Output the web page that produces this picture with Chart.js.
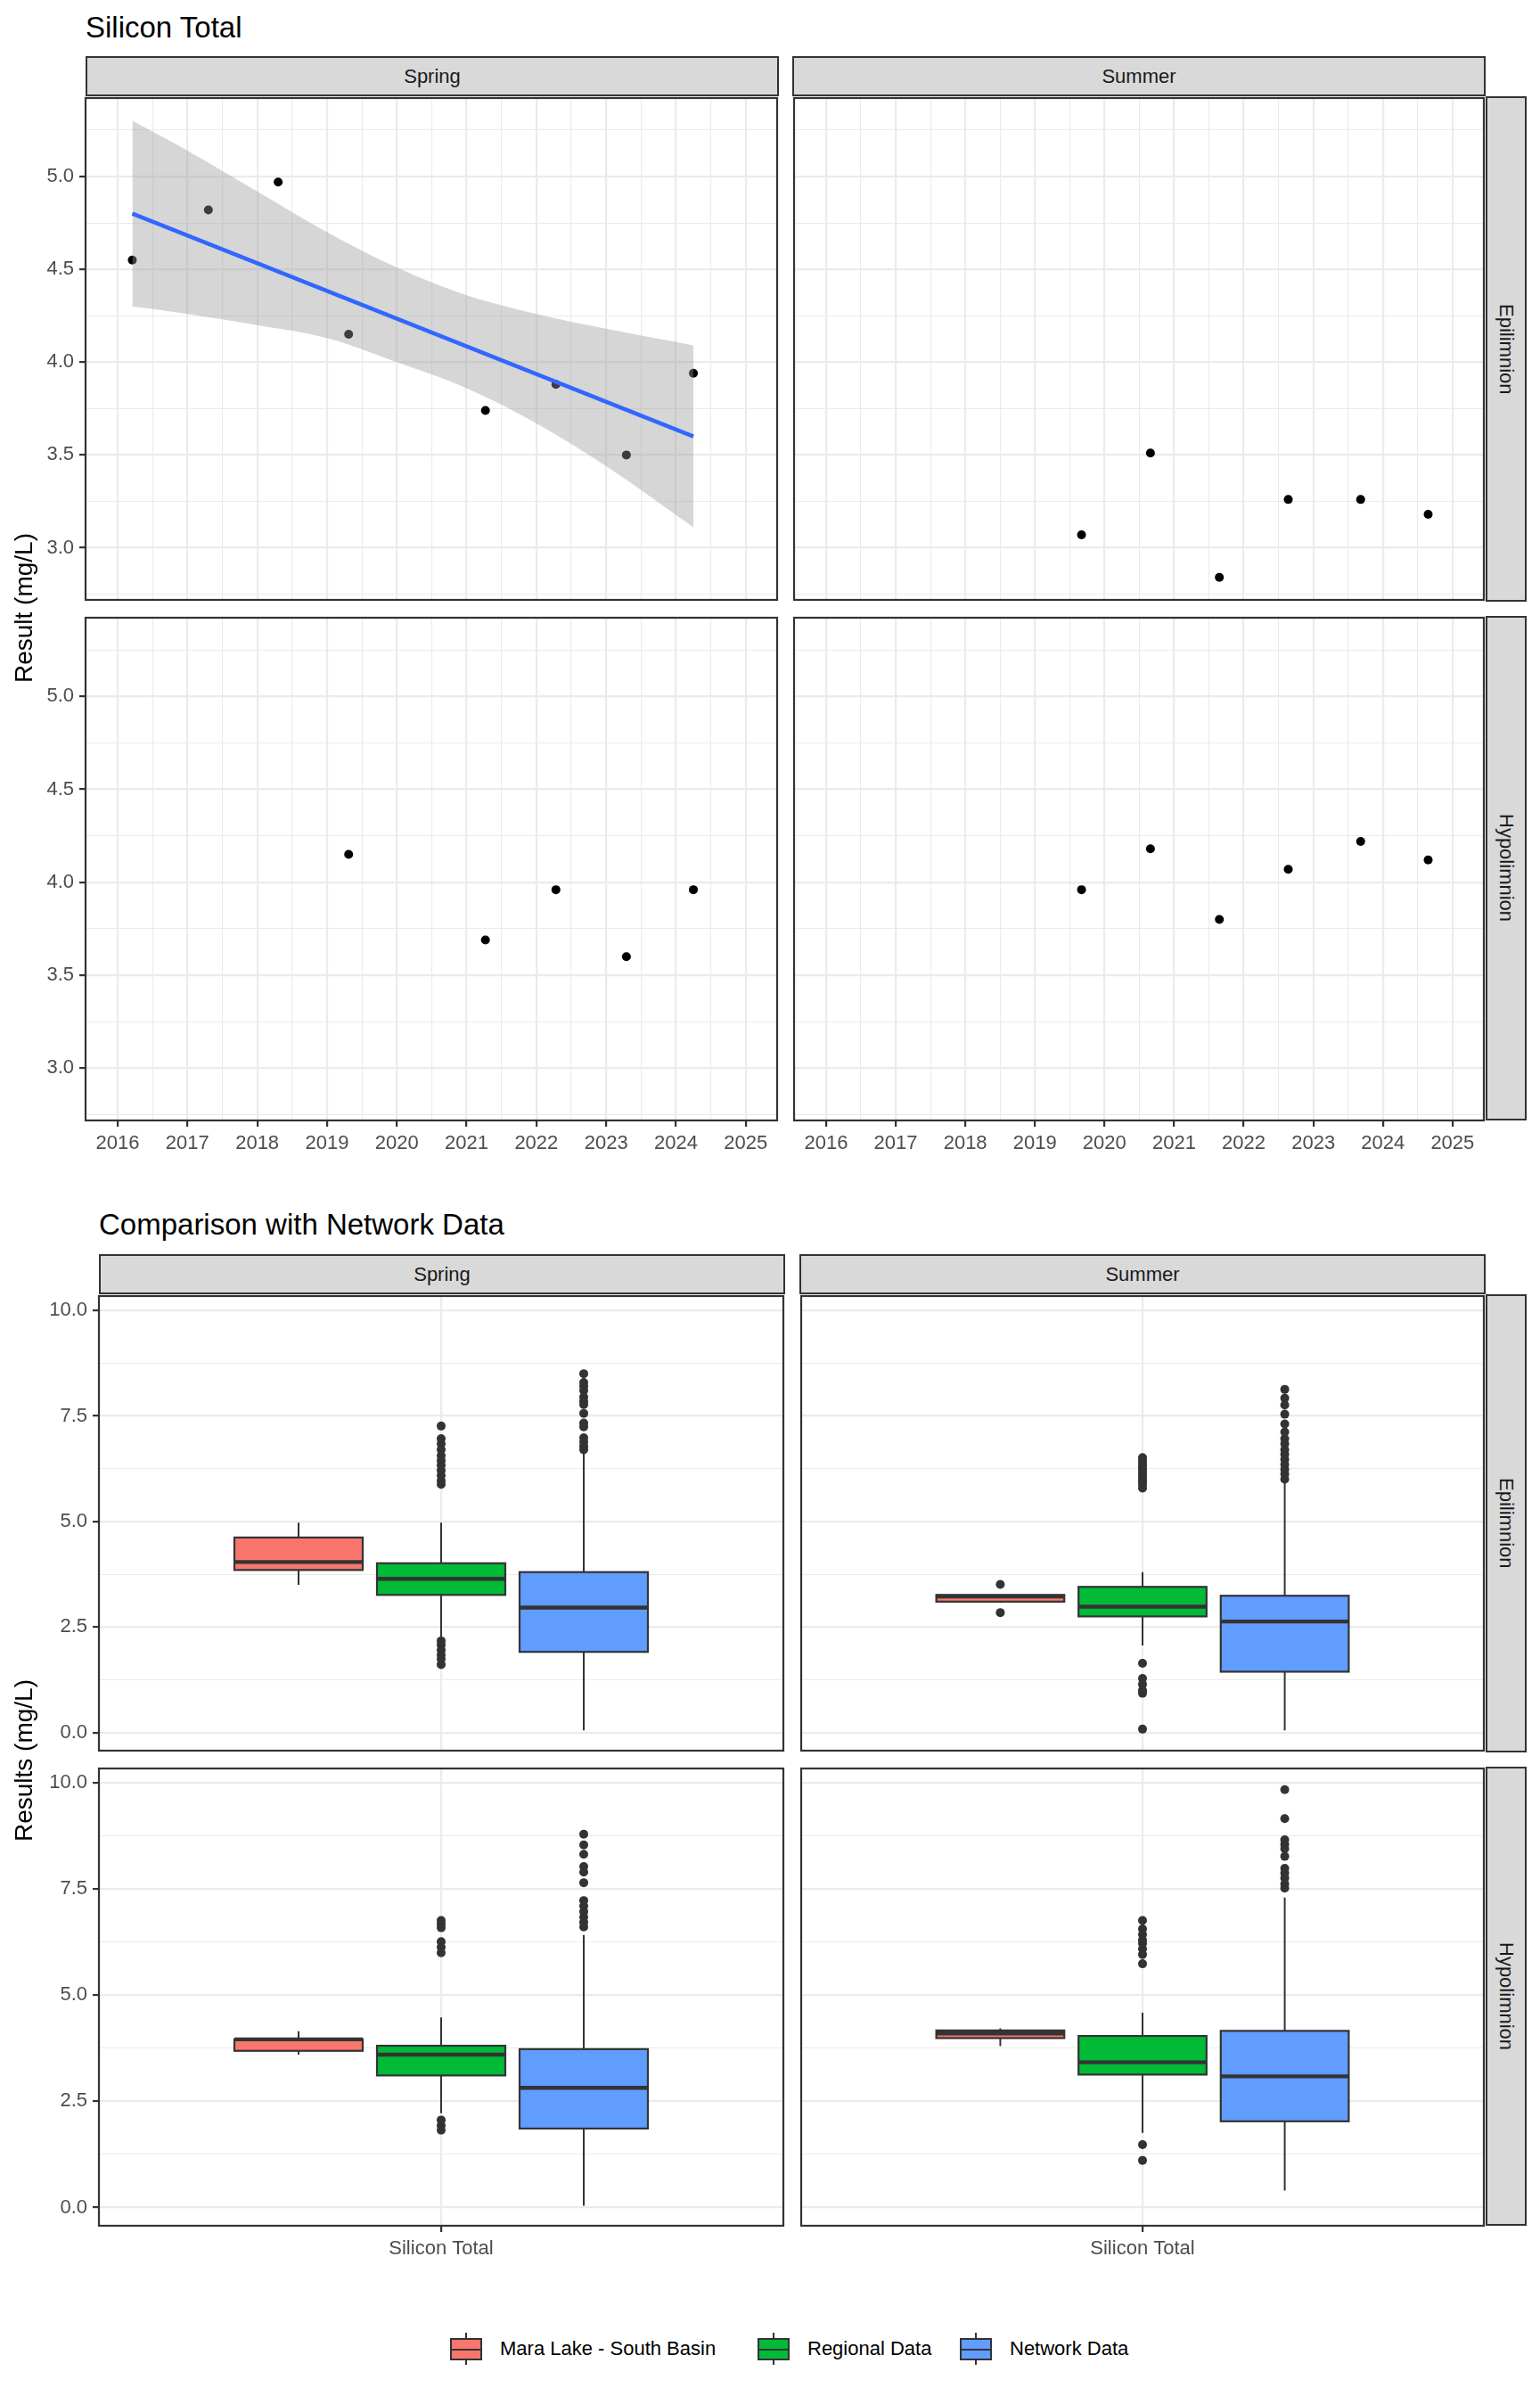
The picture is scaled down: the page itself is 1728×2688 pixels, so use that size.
<!DOCTYPE html>
<html>
<head>
<meta charset="utf-8">
<script src="https://cdn.jsdelivr.net/npm/chart.js@4.4.1/dist/chart.umd.min.js"></script>
<style>
  body { margin: 0; background: #fff; width: 1728px; height: 2688px; position: relative; overflow: hidden;
         font-family: "Liberation Sans", Arial, sans-serif; }
  canvas { position: absolute; }
  .abs { position: absolute; }
  .title { font-size: 33px; line-height: 33px; color: #000; white-space: nowrap; }
  .strip { position: absolute; box-sizing: border-box; background: #D9D9D9; border: 2px solid #333;
           display: flex; align-items: center; justify-content: center; font-size: 22px; color: #1A1A1A; }
  .vstrip { writing-mode: vertical-rl; }
  .ytitle { position: absolute; width: 600px; height: 32px; line-height: 32px; text-align: center;
            font-size: 28px; color: #000; transform: rotate(-90deg); }
  .lgtext { position: absolute; font-size: 22px; line-height: 26px; color: #000; white-space: nowrap; }
</style>
</head>
<body>
<script>
// ---------- Silicon Total over time (decimal years) ----------
const yearTicks = [2016, 2017, 2018, 2019, 2020, 2021, 2022, 2023, 2024, 2025];
const yearMinor = [2016.5, 2017.5, 2018.5, 2019.5, 2020.5, 2021.5, 2022.5, 2023.5, 2024.5];
const resultTicks = [3.0, 3.5, 4.0, 4.5, 5.0];
const resultMinor = [2.75, 3.25, 3.75, 4.25, 4.75, 5.25];

const springEpiX = [2016.21, 2017.30, 2018.30, 2019.31, 2021.27, 2022.28, 2023.29, 2024.25];
const springEpiY = [4.55, 4.82, 4.97, 4.15, 3.74, 3.88, 3.50, 3.94];
const summerEpiX = [2019.67, 2020.66, 2021.65, 2022.64, 2023.68, 2024.65];
const summerEpiY = [3.07, 3.51, 2.84, 3.26, 3.26, 3.18];
const springHypoX = [2019.31, 2021.27, 2022.28, 2023.29, 2024.25];
const springHypoY = [4.15, 3.69, 3.96, 3.60, 3.96];
const summerHypoX = [2019.67, 2020.66, 2021.65, 2022.64, 2023.68, 2024.65];
const summerHypoY = [3.96, 4.18, 3.80, 4.07, 4.22, 4.12];

// lm trend + confidence band (spring epilimnion)
const trendX = [2016.21, 2024.25];
const trendY = [4.80, 3.60];
const bandX = [2016.21, 2017, 2018, 2019, 2020, 2021, 2022, 2023, 2024.25];
const bandHi = [5.30, 5.14, 4.92, 4.70, 4.51, 4.36, 4.26, 4.18, 4.09];
const bandLo = [4.30, 4.26, 4.20, 4.13, 4.00, 3.86, 3.67, 3.44, 3.11];

// ---------- Comparison with network data ----------
const groups = ["Mara Lake - South Basin", "Regional Data", "Network Data"];
const groupColors = ["#F8766D", "#00BA38", "#619CFF"];
const networkTicks = [0, 2.5, 5, 7.5, 10];
const networkMinor = [1.25, 3.75, 6.25, 8.75];
const paramLabel = "Silicon Total";

// [lower whisker, Q1, median, Q3, upper whisker] per group
const springEpiStats = [[3.50, 3.85, 4.04, 4.62, 4.97], [2.21, 3.26, 3.64, 4.01, 4.97], [0.05, 1.91, 2.96, 3.80, 6.65]];
const springEpiOut = [[],
  [7.26, 6.96, 6.84, 6.70, 6.56, 6.44, 6.33, 6.21, 6.09, 5.97, 5.88, 2.17, 2.07, 1.95, 1.84, 1.74, 1.61],
  [8.50, 8.29, 8.20, 8.10, 7.95, 7.85, 7.77, 7.56, 7.33, 7.24, 6.98, 6.88, 6.78, 6.70]];
const summerEpiStats = [[3.07, 3.10, 3.22, 3.26, 3.26], [2.06, 2.75, 2.98, 3.45, 3.80], [0.05, 1.44, 2.63, 3.24, 5.91]];
const summerEpiOut = [[3.51, 2.84],
  [6.51, 6.44, 6.37, 6.30, 6.23, 6.16, 6.09, 6.03, 5.95, 5.88, 5.79, 1.64, 1.28, 1.14, 1.00, 0.93, 0.08],
  [8.13, 7.92, 7.76, 7.54, 7.31, 7.12, 6.96, 6.84, 6.70, 6.59, 6.47, 6.35, 6.23, 6.12, 6.00]];
const springHypoStats = [[3.60, 3.69, 3.96, 3.96, 4.15], [2.22, 3.11, 3.60, 3.81, 4.48], [0.04, 1.86, 2.82, 3.73, 6.42]];
const springHypoOut = [[],
  [6.76, 6.68, 6.59, 6.26, 6.13, 6.00, 2.06, 1.93, 1.82],
  [8.79, 8.54, 8.32, 8.03, 7.90, 7.65, 7.23, 7.10, 6.97, 6.84, 6.72, 6.61]];
const summerHypoStats = [[3.80, 3.99, 4.10, 4.17, 4.22], [1.76, 3.13, 3.42, 4.04, 4.59], [0.40, 2.03, 3.09, 4.16, 7.30]];
const summerHypoOut = [[],
  [6.76, 6.56, 6.43, 6.30, 6.22, 6.09, 5.96, 5.74, 1.48, 1.11],
  [9.84, 9.16, 8.66, 8.55, 8.45, 8.27, 7.99, 7.88, 7.76, 7.62, 7.52]];

// dodge positions on the discrete axis
const boxPos = [0.75, 1.0, 1.25];
const boxHalf = 0.1125;

Chart.defaults.font.family = '"Liberation Sans", Arial, sans-serif';
Chart.defaults.font.size = 22;
Chart.defaults.color = "#4D4D4D";
Chart.defaults.animation = false;

const INK = "#333333";
const PAD = 3;

// panel border all round
Chart.register({
  id: "frame",
  afterDraw(chart) {
    const { ctx, chartArea: a } = chart;
    ctx.save();
    ctx.strokeStyle = INK;
    ctx.lineWidth = 2.2;
    ctx.strokeRect(a.left, a.top, a.right - a.left, a.bottom - a.top);
    ctx.restore();
  }
});

function addDiv(cls, css, text) {
  const d = document.createElement("div");
  d.className = cls;
  Object.assign(d.style, css);
  if (text) d.textContent = text;
  document.body.appendChild(d);
  return d;
}

function addCanvas(g) {
  const c = document.createElement("canvas");
  const left = g.showY ? 0 : g.L - PAD;
  const top = g.T - PAD;
  const w = g.R + PAD - left;
  const h = (g.showX ? g.B + g.axH : g.B + PAD) - top;
  c.width = w; c.height = h;
  c.style.left = left + "px"; c.style.top = top + "px";
  c.style.width = w + "px"; c.style.height = h + "px";
  document.body.appendChild(c);
  return c;
}

function axis(isX, g, cfg) {
  const show = isX ? g.showX : g.showY;
  const isMajor = c => c.tick && cfg.major.includes(c.tick.value);
  return {
    type: "linear",
    position: isX ? "bottom" : "left",
    min: cfg.min,
    max: cfg.max,
    afterBuildTicks: s => {
      s.ticks = cfg.major.concat(cfg.minor).sort((a, b) => a - b).map(v => ({ value: v }));
    },
    afterFit: s => {
      if (isX) s.height = show ? g.axH : 0;
      else s.width = show ? g.L : 0;
      s.paddingLeft = s.paddingRight = s.paddingTop = s.paddingBottom = 0;
    },
    border: { display: false },
    grid: {
      color: "#EBEBEB",
      lineWidth: c => (isMajor(c) ? 2.2 : 1.1),
      drawTicks: show,
      tickLength: 7,
      tickWidth: 2.2,
      tickColor: c => (isMajor(c) ? INK : "rgba(0,0,0,0)")
    },
    ticks: {
      display: show,
      autoSkip: false,
      maxRotation: 0,
      padding: 6,
      color: "#4D4D4D",
      font: { size: 22 },
      callback: v => (cfg.major.includes(v) ? cfg.fmt(v) : "")
    }
  };
}

function makeChart(g, xcfg, ycfg, datasets, plugins) {
  return new Chart(addCanvas(g), {
    type: "scatter",
    data: { datasets },
    options: {
      responsive: false,
      devicePixelRatio: 1,
      layout: { padding: { left: g.showY ? 0 : PAD, top: PAD, right: PAD, bottom: g.showX ? 0 : PAD } },
      plugins: { legend: { display: false }, tooltip: { enabled: false } },
      scales: { x: axis(true, g, xcfg), y: axis(false, g, ycfg) }
    },
    plugins: plugins || []
  });
}

const pts = (xs, ys) => xs.map((x, i) => ({ x, y: ys[i] }));

// ================= Part 1: time series facets =================
const tCols = [[96, 874], [889, 1667]];
const tRows = [[108, 675], [691, 1257]];
const xTime = { min: 2015.54, max: 2025.45, major: yearTicks, minor: yearMinor, fmt: v => String(v) };
const yTime = { min: 2.719, max: 5.423, major: resultTicks, minor: resultMinor, fmt: v => v.toFixed(1) };

function pointSet(xs, ys) {
  return { data: pts(xs, ys), pointRadius: 5, backgroundColor: "#000", borderColor: "#000", borderWidth: 0, order: 3 };
}

const timePanels = [
  { r: 0, c: 0, ds: [
      pointSet(springEpiX, springEpiY),
      { data: pts(bandX, bandLo), showLine: true, pointRadius: 0, borderColor: "rgba(0,0,0,0)",
        cubicInterpolationMode: "monotone", fill: false, order: 2 },
      { data: pts(bandX, bandHi), showLine: true, pointRadius: 0, borderColor: "rgba(0,0,0,0)",
        cubicInterpolationMode: "monotone", backgroundColor: "rgba(153,153,153,0.4)", fill: "-1", order: 1 },
      { data: pts(trendX, trendY), showLine: true, pointRadius: 0, borderColor: "#3366FF", borderWidth: 4.5, order: 0 }
    ] },
  { r: 0, c: 1, ds: [pointSet(summerEpiX, summerEpiY)] },
  { r: 1, c: 0, ds: [pointSet(springHypoX, springHypoY)] },
  { r: 1, c: 1, ds: [pointSet(summerHypoX, summerHypoY)] }
];

timePanels.forEach(p => {
  const g = { L: tCols[p.c][0], R: tCols[p.c][1], T: tRows[p.r][0], B: tRows[p.r][1],
              showX: p.r === 1, showY: p.c === 0, axH: 43 };
  makeChart(g, xTime, yTime, p.ds);
});

addDiv("abs title", { left: "96px", top: "14px" }, "Silicon Total");
addDiv("strip", { left: "96px", top: "63px", width: "778px", height: "45px" }, "Spring");
addDiv("strip", { left: "889px", top: "63px", width: "778px", height: "45px" }, "Summer");
addDiv("strip vstrip", { left: "1667px", top: "108px", width: "46px", height: "567px" }, "Epilimnion");
addDiv("strip vstrip", { left: "1667px", top: "691px", width: "46px", height: "566px" }, "Hypolimnion");
addDiv("ytitle", { left: (27 - 300) + "px", top: (682 - 16) + "px" }, "Result (mg/L)");

// ================= Part 2: boxplot facets =================
const bCols = [[111, 881], [897, 1667]];
const bRows = [[1452, 1966], [1982, 2497]];
const xBox = { min: 0.4, max: 1.6, major: [1], minor: [], fmt: () => paramLabel };
const yBox = { min: -0.43, max: 10.34, major: networkTicks, minor: networkMinor, fmt: v => v.toFixed(1) };

function boxPlugin(stats) {
  return {
    id: "boxes",
    afterDatasetsDraw(chart) {
      const { ctx, scales: { x, y } } = chart;
      ctx.save();
      stats.forEach((s, i) => {
        const l = x.getPixelForValue(boxPos[i] - boxHalf);
        const r = x.getPixelForValue(boxPos[i] + boxHalf);
        const t = y.getPixelForValue(s[3]);
        const b = y.getPixelForValue(s[1]);
        const m = y.getPixelForValue(s[2]);
        ctx.fillStyle = groupColors[i];
        ctx.fillRect(l, t, r - l, b - t);
        ctx.strokeStyle = INK;
        ctx.lineWidth = 2.2;
        ctx.strokeRect(l, t, r - l, b - t);
        ctx.lineWidth = 4.4;
        ctx.beginPath();
        ctx.moveTo(l, m);
        ctx.lineTo(r, m);
        ctx.stroke();
      });
      ctx.restore();
    }
  };
}

function boxDatasets(stats, outliers) {
  const ds = [];
  stats.forEach((s, i) => {
    const x = boxPos[i];
    ds.push({ data: [{ x, y: s[0] }, { x, y: s[1] }], showLine: true, pointRadius: 0, borderColor: INK, borderWidth: 2 });
    ds.push({ data: [{ x, y: s[3] }, { x, y: s[4] }], showLine: true, pointRadius: 0, borderColor: INK, borderWidth: 2 });
    ds.push({ data: outliers[i].map(v => ({ x, y: v })), pointRadius: 5, backgroundColor: INK, borderColor: INK, borderWidth: 0 });
  });
  return ds;
}

const boxPanels = [
  { r: 0, c: 0, stats: springEpiStats, out: springEpiOut },
  { r: 0, c: 1, stats: summerEpiStats, out: summerEpiOut },
  { r: 1, c: 0, stats: springHypoStats, out: springHypoOut },
  { r: 1, c: 1, stats: summerHypoStats, out: summerHypoOut }
];

boxPanels.forEach(p => {
  const g = { L: bCols[p.c][0], R: bCols[p.c][1], T: bRows[p.r][0], B: bRows[p.r][1],
              showX: p.r === 1, showY: p.c === 0, axH: 43 };
  makeChart(g, xBox, yBox, boxDatasets(p.stats, p.out), [boxPlugin(p.stats)]);
});

addDiv("abs title", { left: "111px", top: "1357px" }, "Comparison with Network Data");
addDiv("strip", { left: "111px", top: "1407px", width: "770px", height: "45px" }, "Spring");
addDiv("strip", { left: "897px", top: "1407px", width: "770px", height: "45px" }, "Summer");
addDiv("strip vstrip", { left: "1667px", top: "1452px", width: "46px", height: "514px" }, "Epilimnion");
addDiv("strip vstrip", { left: "1667px", top: "1982px", width: "46px", height: "515px" }, "Hypolimnion");
addDiv("ytitle", { left: (27 - 300) + "px", top: (1975 - 16) + "px" }, "Results (mg/L)");

// legend (boxplot key glyphs)
const legendKeyX = [505, 850, 1077];
const legendTextX = [561, 906, 1133];
groups.forEach((name, i) => {
  const kx = legendKeyX[i];
  addDiv("abs", { left: (kx + 17) + "px", top: "2617px", width: "2px", height: "7px", background: INK });
  addDiv("abs", { left: (kx + 17) + "px", top: "2646px", width: "2px", height: "7px", background: INK });
  const box = addDiv("abs", { left: kx + "px", top: "2623px", width: "36px", height: "25px", boxSizing: "border-box",
                              border: "2px solid " + INK, background: groupColors[i] });
  const med = document.createElement("div");
  Object.assign(med.style, { position: "absolute", left: "0", right: "0", top: "9.5px", height: "2px", background: INK });
  box.appendChild(med);
  addDiv("lgtext", { left: legendTextX[i] + "px", top: "2622px" }, name);
});
</script>
</body>
</html>
